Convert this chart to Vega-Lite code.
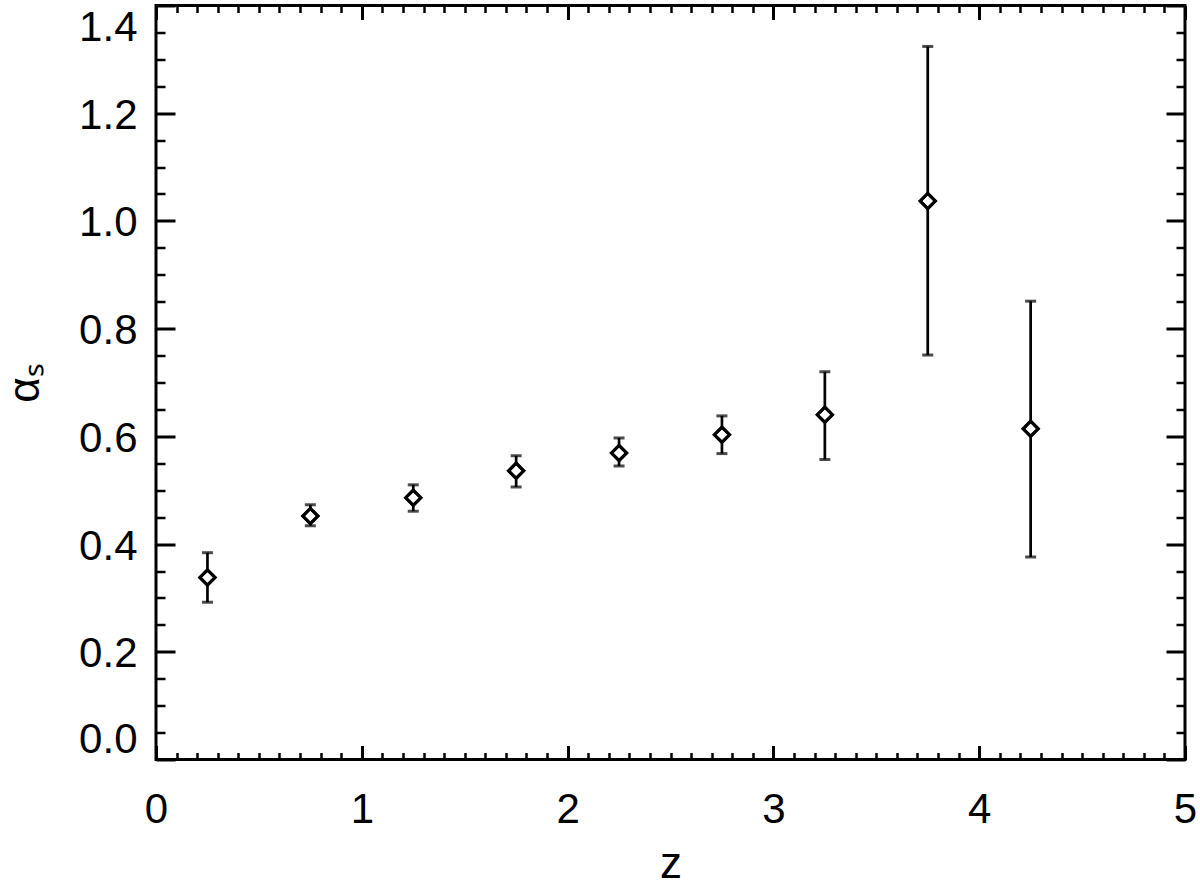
{
  "$schema": "https://vega.github.io/schema/vega-lite/v6.json",
  "width": 1029,
  "height": 754,
  "autosize": {"type": "none"},
  "padding": {"left": 156, "top": 5.5, "right": 15, "bottom": 130},
  "background": "white",
  "config": {
    "view": {"stroke": "black", "strokeWidth": 3},
    "axis": {
      "domain": false,
      "grid": false,
      "labelFont": "Liberation Sans",
      "labelFontSize": 42,
      "labelColor": "black",
      "titleFont": "Liberation Sans",
      "titleFontSize": 44,
      "titleFontWeight": "normal",
      "titleColor": "black",
      "tickColor": "black"
    }
  },
  "data": {
    "values": [
      {"z": 0.25, "a": 0.338, "lo": 0.292, "hi": 0.384},
      {"z": 0.75, "a": 0.452, "lo": 0.434, "hi": 0.473},
      {"z": 1.25, "a": 0.486, "lo": 0.461, "hi": 0.510},
      {"z": 1.75, "a": 0.536, "lo": 0.506, "hi": 0.564},
      {"z": 2.25, "a": 0.569, "lo": 0.545, "hi": 0.597},
      {"z": 2.75, "a": 0.603, "lo": 0.568, "hi": 0.638},
      {"z": 3.25, "a": 0.640, "lo": 0.557, "hi": 0.720},
      {"z": 3.75, "a": 1.037, "lo": 0.751, "hi": 1.324},
      {"z": 4.25, "a": 0.614, "lo": 0.376, "hi": 0.851}
    ]
  },
  "resolve": {"axis": {"x": "independent", "y": "independent"}},
  "layer": [
    {
      "mark": {"type": "rule", "color": "black", "strokeWidth": 2.7},
      "encoding": {
        "x": {"field": "z", "type": "quantitative", "scale": {"domain": [0, 5], "nice": false, "zero": false},
          "axis": {"orient": "bottom", "values": [0, 1, 2, 3, 4, 5], "format": "d", "ticks": false, "labelPadding": 30, "title": "z", "titlePadding": 12, "labelFlush": false}},
        "y": {"field": "lo", "type": "quantitative", "scale": {"domain": [0, 1.4], "nice": false, "zero": false},
          "axis": {"orient": "left", "values": [0, 0.2, 0.4, 0.6, 0.8, 1.0, 1.2, 1.4], "format": ".1f", "ticks": false, "labelPadding": 19, "labelFlush": true, "labelOffset": 2, "title": "αₛ", "titlePadding": 31}},
        "y2": {"field": "hi"}
      }
    },
    {
      "mark": {"type": "tick", "orient": "horizontal", "color": "black", "size": 11, "thickness": 3},
      "encoding": {
        "x": {"field": "z", "type": "quantitative", "scale": {"domain": [0, 5], "nice": false, "zero": false},
          "axis": {"orient": "bottom", "values": [0, 1, 2, 3, 4, 5], "labels": false, "tickSize": -14, "tickWidth": 3, "title": null}},
        "y": {"field": "lo", "type": "quantitative", "scale": {"domain": [0, 1.4], "nice": false, "zero": false},
          "axis": {"orient": "left", "values": [0, 0.2, 0.4, 0.6, 0.8, 1.0, 1.2, 1.4], "labels": false, "tickSize": -19, "tickWidth": 3, "title": null}}
      }
    },
    {
      "mark": {"type": "tick", "orient": "horizontal", "color": "black", "size": 11, "thickness": 3},
      "encoding": {
        "x": {"field": "z", "type": "quantitative", "scale": {"domain": [0, 5], "nice": false, "zero": false},
          "axis": {"orient": "bottom", "values": [0.1, 0.2, 0.3, 0.4, 0.5, 0.6, 0.7, 0.8, 0.9, 1.1, 1.2, 1.3, 1.4, 1.5, 1.6, 1.7, 1.8, 1.9, 2.1, 2.2, 2.3, 2.4, 2.5, 2.6, 2.7, 2.8, 2.9, 3.1, 3.2, 3.3, 3.4, 3.5, 3.6, 3.7, 3.8, 3.9, 4.1, 4.2, 4.3, 4.4, 4.5, 4.6, 4.7, 4.8, 4.9], "labels": false, "tickSize": -7, "tickWidth": 2.5, "title": null}},
        "y": {"field": "hi", "type": "quantitative", "scale": {"domain": [0, 1.4], "nice": false, "zero": false},
          "axis": {"orient": "left", "values": [0.05, 0.1, 0.15, 0.25, 0.3, 0.35, 0.45, 0.5, 0.55, 0.65, 0.7, 0.75, 0.85, 0.9, 0.95, 1.05, 1.1, 1.15, 1.25, 1.3, 1.35], "labels": false, "tickSize": -9, "tickWidth": 2.5, "title": null}}
      }
    },
    {
      "mark": {"type": "point", "shape": "diamond", "filled": true, "fill": "white", "stroke": "black", "strokeWidth": 3, "size": 230, "opacity": 1},
      "encoding": {
        "x": {"field": "z", "type": "quantitative", "scale": {"domain": [0, 5], "nice": false, "zero": false},
          "axis": {"orient": "top", "values": [0, 1, 2, 3, 4, 5], "labels": false, "tickSize": -14, "tickWidth": 3, "title": null}},
        "y": {"field": "a", "type": "quantitative", "scale": {"domain": [0, 1.4], "nice": false, "zero": false},
          "axis": {"orient": "right", "values": [0, 0.2, 0.4, 0.6, 0.8, 1.0, 1.2, 1.4], "labels": false, "tickSize": -19, "tickWidth": 3, "title": null}}
      }
    },
    {
      "mark": {"type": "point", "shape": "diamond", "filled": false, "stroke": "black", "strokeWidth": 3, "size": 230, "opacity": 1},
      "encoding": {
        "x": {"field": "z", "type": "quantitative", "scale": {"domain": [0, 5], "nice": false, "zero": false},
          "axis": {"orient": "top", "values": [0.1, 0.2, 0.3, 0.4, 0.5, 0.6, 0.7, 0.8, 0.9, 1.1, 1.2, 1.3, 1.4, 1.5, 1.6, 1.7, 1.8, 1.9, 2.1, 2.2, 2.3, 2.4, 2.5, 2.6, 2.7, 2.8, 2.9, 3.1, 3.2, 3.3, 3.4, 3.5, 3.6, 3.7, 3.8, 3.9, 4.1, 4.2, 4.3, 4.4, 4.5, 4.6, 4.7, 4.8, 4.9], "labels": false, "tickSize": -7, "tickWidth": 2.5, "title": null}},
        "y": {"field": "a", "type": "quantitative", "scale": {"domain": [0, 1.4], "nice": false, "zero": false},
          "axis": {"orient": "right", "values": [0.05, 0.1, 0.15, 0.25, 0.3, 0.35, 0.45, 0.5, 0.55, 0.65, 0.7, 0.75, 0.85, 0.9, 0.95, 1.05, 1.1, 1.15, 1.25, 1.3, 1.35], "labels": false, "tickSize": -9, "tickWidth": 2.5, "title": null}}
      }
    }
  ]
}
